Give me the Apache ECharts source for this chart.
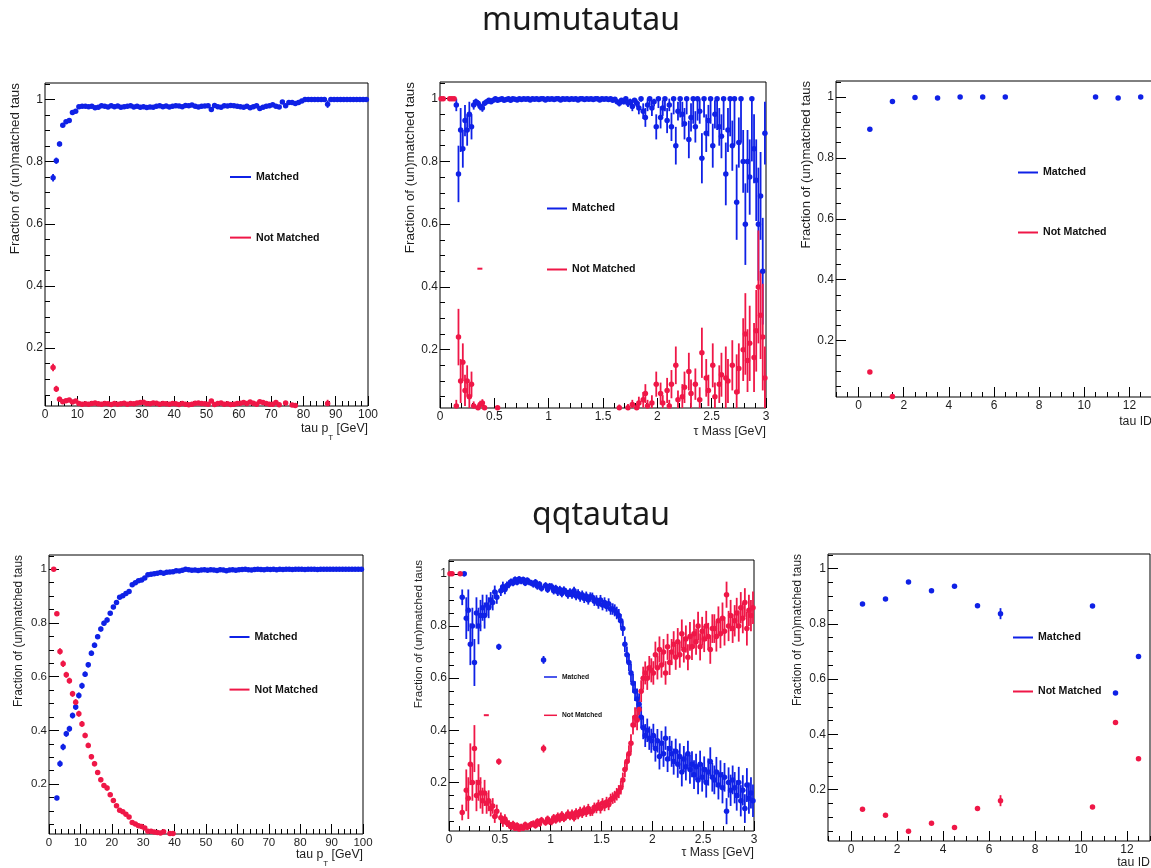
<!DOCTYPE html>
<html>
<head>
<meta charset="utf-8">
<title>Tau matching fractions</title>
<script src="https://cdn.jsdelivr.net/npm/echarts@6/dist/echarts.min.js"></script>
<style>
  html, body { margin: 0; padding: 0; background: #ffffff; }
  #chart { width: 1151px; height: 868px; }
</style>
</head>
<body>
<div id="chart"></div>
<script>
// ---------------------------------------------------------------------------
// Fractions of matched / not matched taus per bin.
// pT histograms: 100 bins of 1 GeV, mass histograms: 150 bins of 0.02 GeV,
// tau ID histograms: 13 bins of width 1. null = empty bin (nothing drawn).
// ---------------------------------------------------------------------------

// ---- mumutautau, tau pT ----
const ptMatchedMM = [
  null,null,0.748,0.803,0.857,0.917,0.928,0.932,0.958,0.962,
  0.977,0.978,0.978,0.977,0.978,0.973,0.975,0.98,0.978,0.976,
  0.98,0.977,0.979,0.975,0.977,0.978,0.98,0.976,0.978,0.975,
  0.977,0.974,0.976,0.975,0.978,0.98,0.977,0.979,0.976,0.978,
  0.98,0.979,0.977,0.981,0.98,0.982,0.978,0.976,0.978,0.979,
  0.98,0.968,0.981,0.977,0.975,0.98,0.979,0.981,0.98,0.978,
  0.977,0.975,0.978,0.973,0.977,0.98,0.971,0.975,0.978,0.98,
  0.983,0.978,0.976,0.992,0.98,0.99,0.99,0.987,0.99,0.995,
  1,1,1,1,1,1,1,0.985,1,1,
  1,1,1,1,1,1,1,1,1,1
];
const ptNotMatchedMM = [
  null,null,0.138,0.069,0.036,0.028,0.031,0.033,0.027,0.03,
  0.022,0.02,0.021,0.02,0.022,0.024,0.021,0.02,0.022,0.021,
  0.019,0.022,0.02,0.021,0.023,0.02,0.022,0.021,0.024,0.025,
  0.026,0.022,0.021,0.024,0.023,0.02,0.022,0.021,0.02,0.022,
  0.021,0.019,0.022,0.02,0.018,0.02,0.023,0.024,0.022,0.021,
  0.02,0.03,0.019,0.022,0.024,0.02,0.021,0.019,0.02,0.022,
  0.023,0.025,0.022,0.027,0.023,0.02,0.028,0.025,0.022,0.02,
  0.02,0.025,0.018,null,0.024,null,0.017,0.016,null,null,
  null,null,null,null,null,null,null,0.022,null,null,
  null,null,null,null,null,null,null,null,null,null
];
const ptErrMM = [
  0,0,0.012,0.01,0.008,0.006,0.005,0.005,0.004,0.004,
  0.003,0.003,0.003,0.003,0.003,0.003,0.003,0.003,0.003,0.003,
  0.003,0.003,0.003,0.003,0.003,0.003,0.003,0.003,0.003,0.003,
  0.003,0.003,0.003,0.003,0.003,0.003,0.003,0.003,0.003,0.003,
  0.003,0.003,0.003,0.003,0.003,0.003,0.003,0.003,0.003,0.003,
  0.003,0.005,0.003,0.003,0.003,0.003,0.003,0.003,0.003,0.003,
  0.004,0.004,0.004,0.004,0.004,0.004,0.004,0.004,0.004,0.004,
  0.005,0.005,0.005,0.006,0.006,0.005,0.006,0.006,0.006,0.005,
  0.004,0.004,0.004,0.004,0.004,0.004,0.004,0.012,0.004,0.004,
  0.003,0.003,0.003,0.003,0.003,0.003,0.003,0.003,0.003,0.003
];

// ---- mumutautau, tau mass ----
const massMatchedMM = [
  null,null,null,null,null,null,null,0.98,0.76,0.90,
  0.84,0.93,0.90,0.95,0.91,0.98,0.99,0.985,0.975,0.97,
  0.985,0.99,0.995,0.99,0.995,1,0.995,0.997,1,0.995,
  0.997,1,0.995,1,0.998,0.996,1,0.997,1,0.998,
  1,0.996,1,0.998,1,0.997,1,1,0.996,1,
  0.998,1,0.997,1,1,0.996,1,0.998,1,0.997,
  1,0.998,1,0.996,1,1,0.997,1,0.998,1,
  0.997,1,1,0.996,1,0.998,1,0.997,1,0.995,
  0.998,0.99,0.985,0.995,0.99,1,0.985,0.99,0.975,0.995,
  0.985,0.97,1,0.96,0.94,0.98,1,0.97,0.99,0.91,
  1,0.94,0.97,1,0.93,0.98,0.91,1,0.85,0.96,
  1,0.95,0.92,1,0.87,0.94,1,0.91,1,0.96,
  0.81,1,0.89,0.93,1,0.85,0.95,1,0.91,0.88,
  1,0.76,0.90,1,0.85,1,0.67,0.86,1,0.80,
  0.60,0.80,0.75,1,0.84,0.74,0.60,0.69,0.45,0.89
];
const massNotMatchedMM = [
  1,1,null,null,1,1,1,0.02,0.24,0.10,
  0.16,0.07,0.10,0.05,0.09,0.02,null,0.015,0.025,0.03,
  0.015,null,null,null,null,null,0.015,null,null,null,
  null,null,null,null,null,null,null,null,null,null,
  null,null,null,null,null,null,null,null,null,null,
  null,null,null,null,null,null,null,null,null,null,
  null,null,null,null,null,null,null,null,null,null,
  null,null,null,null,null,null,null,null,null,null,
  null,null,0.015,null,null,null,0.015,null,0.025,null,
  0.015,0.03,null,0.04,0.06,0.02,null,0.03,null,0.09,
  null,0.06,0.03,null,0.07,0.02,0.09,null,0.15,0.04,
  null,0.05,0.08,null,0.13,0.06,null,0.09,null,0.04,
  0.19,null,0.11,0.07,null,0.15,0.05,null,0.09,0.12,
  null,0.11,0.10,null,0.15,null,0.065,0.14,null,0.20,
  0.25,0.165,0.22,null,0.175,0.26,0.40,0.31,0.24,0.11
];
const massErrMM = [
  0,0,0,0,0,0,0,0.02,0.09,0.07,
  0.06,0.05,0.05,0.04,0.04,0.015,0.01,0.01,0.012,0.012,
  0.008,0.006,0.005,0.006,0.005,0.004,0.005,0.004,0.004,0.004,
  0.004,0.004,0.004,0.004,0.004,0.004,0.004,0.004,0.004,0.004,
  0.004,0.004,0.004,0.004,0.004,0.004,0.004,0.004,0.004,0.004,
  0.004,0.004,0.004,0.004,0.004,0.004,0.004,0.004,0.004,0.004,
  0.004,0.004,0.004,0.004,0.004,0.004,0.004,0.004,0.004,0.004,
  0.004,0.004,0.004,0.004,0.004,0.004,0.004,0.004,0.004,0.004,
  0.004,0.006,0.01,0.006,0.008,0.005,0.012,0.01,0.015,0.008,
  0.012,0.02,0.01,0.025,0.03,0.02,0.02,0.025,0.015,0.04,
  0.03,0.035,0.025,0.04,0.04,0.02,0.045,0.05,0.06,0.03,
  0.06,0.04,0.05,0.05,0.06,0.045,0.08,0.05,0.07,0.04,
  0.08,0.06,0.06,0.05,0.08,0.07,0.045,0.1,0.06,0.07,
  0.1,0.1,0.07,0.12,0.08,0.15,0.12,0.08,0.14,0.1,
  0.13,0.1,0.12,0.2,0.11,0.13,0.18,0.14,0.17,0.1
];

// ---- mumutautau, tau ID ----
const idMatchedMM    = [0.894,0.986,0.999,0.997,1,1,1,null,null,null,1,0.997,1];
const idNotMatchedMM = [0.096,0.016,null,null,null,null,null,null,null,null,null,null,null];
const idErrMM        = [0.004,0.002,0.001,0.001,0.001,0.001,0.001,0,0,0,0.001,0.002,0.001];

// ---- qqtautau, tau pT ----
const ptMatchedQQ = [
  null,null,0.148,0.276,0.338,0.387,0.406,0.455,0.487,0.53,
  0.566,0.609,0.644,0.687,0.717,0.749,0.777,0.799,0.811,0.836,
  0.859,0.876,0.896,0.901,0.91,0.917,0.942,0.95,0.957,0.96,
  0.967,0.979,0.981,0.983,0.985,0.988,0.985,0.989,0.99,0.991,
  0.994,0.993,0.996,1,0.998,0.996,0.997,0.995,0.997,0.998,
  0.996,0.998,0.997,0.995,0.998,0.997,0.994,0.997,0.998,0.996,
  0.998,0.999,1,0.998,0.997,0.999,1,0.999,0.998,1,
  0.999,1,0.998,1,0.999,1,1,0.999,1,1,
  1,0.999,1,1,1,0.999,1,1,1,1,
  1,1,1,1,1,1,1,1,1,1
];
const ptNotMatchedQQ = [
  null,1,0.834,0.694,0.648,0.607,0.585,0.536,0.505,0.462,
  0.424,0.381,0.344,0.302,0.276,0.243,0.216,0.195,0.185,0.16,
  0.139,0.119,0.102,0.097,0.088,0.077,0.057,0.051,0.045,0.042,
  0.036,0.024,0.024,0.021,0.02,0.018,0.022,null,0.016,0.016,
  null,null,null,null,null,null,null,null,null,null,
  null,null,null,null,null,null,null,null,null,null,
  null,null,null,null,null,null,null,null,null,null,
  null,null,null,null,null,null,null,null,null,null,
  null,null,null,null,null,null,null,null,null,null,
  null,null,null,null,null,null,null,null,null,null
];
const ptErrQQ = [
  0,0,0.008,0.012,0.012,0.011,0.011,0.011,0.011,0.011,
  0.011,0.01,0.01,0.01,0.01,0.009,0.009,0.009,0.009,0.008,
  0.008,0.007,0.007,0.007,0.006,0.006,0.005,0.005,0.005,0.005,
  0.004,0.004,0.004,0.003,0.003,0.003,0.003,0.003,0.003,0.003,
  0.002,0.002,0.002,0.002,0.002,0.002,0.002,0.002,0.002,0.002,
  0.002,0.002,0.002,0.002,0.002,0.002,0.002,0.002,0.002,0.002,
  0.002,0.002,0.002,0.002,0.002,0.002,0.002,0.002,0.002,0.002,
  0.002,0.002,0.002,0.002,0.002,0.002,0.002,0.002,0.002,0.002,
  0.002,0.002,0.002,0.002,0.002,0.002,0.002,0.002,0.002,0.002,
  0.002,0.002,0.002,0.002,0.002,0.002,0.002,0.002,0.002,0.002
];

// ---- qqtautau, tau mass ----
const massMatchedQQ = [
  null,null,null,null,null,null,0.91,1.0,0.83,0.86,
  0.73,0.80,0.66,0.85,0.80,0.84,0.87,0.84,0.88,0.87,
  0.90,0.89,0.93,0.91,0.72,0.935,0.95,0.94,0.955,0.96,
  0.97,0.965,0.978,0.968,0.98,0.972,0.978,0.965,0.975,0.968,
  0.965,0.96,0.968,0.952,0.96,0.945,0.67,0.955,0.94,0.952,
  0.95,0.935,0.945,0.93,0.94,0.925,0.938,0.93,0.92,0.93,
  0.92,0.935,0.915,0.925,0.91,0.92,0.905,0.915,0.90,0.912,
  0.91,0.895,0.90,0.885,0.90,0.88,0.89,0.875,0.885,0.865,
  0.865,0.86,0.85,0.84,0.82,0.79,0.73,0.69,0.66,0.62,
  0.58,0.55,0.52,0.50,0.45,0.41,0.38,0.40,0.37,0.36,
  0.38,0.33,0.36,0.30,0.35,0.31,0.37,0.29,0.33,0.31,
  0.28,0.32,0.27,0.30,0.24,0.29,0.26,0.31,0.25,0.27,
  0.23,0.26,0.21,0.27,0.22,0.25,0.20,0.24,0.28,0.22,
  0.21,0.24,0.19,0.23,0.18,0.22,0.09,0.20,0.17,0.21,
  0.18,0.15,0.20,0.13,0.17,0.10,0.19,0.14,0.16,0.13
];
const massNotMatchedQQ = [
  1,1,null,null,null,1,0.085,null,0.17,0.14,
  0.27,0.20,0.33,0.15,0.20,0.16,0.13,0.16,0.12,0.13,
  0.10,0.11,0.07,0.09,0.28,0.065,0.05,0.06,0.045,0.04,
  0.03,0.04,0.025,0.035,0.022,0.03,0.025,0.038,0.028,0.034,
  0.04,0.042,0.035,0.05,0.042,0.055,0.33,0.047,0.06,0.05,
  0.05,0.065,0.055,0.07,0.06,0.075,0.062,0.07,0.08,0.07,
  0.08,0.065,0.085,0.075,0.09,0.08,0.095,0.085,0.10,0.088,
  0.09,0.105,0.10,0.115,0.10,0.12,0.11,0.125,0.115,0.135,
  0.14,0.145,0.155,0.165,0.18,0.21,0.25,0.28,0.31,0.35,
  0.42,0.45,0.44,0.48,0.55,0.60,0.62,0.60,0.64,0.63,
  0.62,0.69,0.64,0.71,0.65,0.70,0.62,0.72,0.66,0.70,
  0.73,0.68,0.74,0.69,0.77,0.71,0.75,0.68,0.76,0.72,
  0.77,0.74,0.80,0.72,0.78,0.75,0.80,0.76,0.71,0.79,
  0.79,0.76,0.82,0.77,0.83,0.78,0.92,0.80,0.84,0.79,
  0.82,0.85,0.80,0.87,0.83,0.89,0.79,0.86,0.84,0.87
];
const massErrQQ = [
  0,0,0,0,0,0,0.03,0.01,0.08,0.08,
  0.08,0.07,0.09,0.06,0.07,0.06,0.05,0.05,0.04,0.04,
  0.03,0.03,0.025,0.025,0.012,0.02,0.02,0.018,0.016,0.015,
  0.012,0.013,0.012,0.012,0.011,0.012,0.011,0.012,0.011,0.012,
  0.012,0.013,0.012,0.013,0.012,0.013,0.015,0.013,0.013,0.013,
  0.014,0.014,0.013,0.015,0.014,0.015,0.014,0.015,0.016,0.015,
  0.016,0.015,0.016,0.016,0.017,0.016,0.017,0.017,0.018,0.017,
  0.018,0.018,0.018,0.019,0.019,0.02,0.02,0.02,0.021,0.022,
  0.022,0.023,0.024,0.025,0.026,0.028,0.03,0.031,0.033,0.035,
  0.036,0.038,0.04,0.042,0.042,0.044,0.044,0.045,0.045,0.046,
  0.045,0.05,0.045,0.05,0.048,0.05,0.045,0.05,0.048,0.05,
  0.05,0.048,0.052,0.05,0.055,0.05,0.052,0.05,0.055,0.05,
  0.055,0.05,0.055,0.052,0.055,0.05,0.058,0.052,0.055,0.055,
  0.055,0.058,0.055,0.055,0.06,0.055,0.05,0.058,0.06,0.055,
  0.06,0.058,0.06,0.06,0.058,0.055,0.065,0.06,0.06,0.062
];

// ---- qqtautau, tau ID ----
const idMatchedQQ    = [0.872,0.89,0.952,0.92,0.936,0.866,0.837,null,null,null,0.865,0.55,0.682];
const idNotMatchedQQ = [0.129,0.107,0.049,0.078,0.063,0.132,0.16,null,null,null,0.137,0.443,0.312];
const idErrQQ        = [0.005,0.005,0.004,0.005,0.004,0.006,0.02,0,0,0,0.005,0.005,0.006];

// isolated not-matched entry in both mass histograms
const massStrayNotMatched = [[0.367, 0.458]];

// ---- tick labels ----
const yTickLabels  = [0.2, 0.4, 0.6, 0.8, 1];
const ptTickLabels = [0, 10, 20, 30, 40, 50, 60, 70, 80, 90, 100];
const massTickLabels = [0, 0.5, 1, 1.5, 2, 2.5, 3];
const idTickLabels = [0, 2, 4, 6, 8, 10, 12];

// ---------------------------------------------------------------------------
const FONT = '"Liberation Sans", Arial, Helvetica, sans-serif';
const BLUE = '#0f21e6';
const RED = '#ef1747';
const INK = '#1e1e1e';
const Y_MIN = 0.014, Y_MAX = 1.053;

function binCenters(lo, width, n) {
  const out = [];
  for (let i = 0; i < n; i++) out.push(Math.round((lo + (i + 0.5) * width) * 1e6) / 1e6);
  return out;
}
function steps(lo, hi, step) {
  const out = [];
  const n = Math.round((hi - lo) / step);
  for (let i = 0; i <= n; i++) out.push(Math.round((lo + i * step) * 1e6) / 1e6);
  return out;
}
function toPoints(xs, ys, errs) {
  const out = [];
  ys.forEach((y, i) => { if (y != null) out.push([xs[i], y, errs[i]]); });
  return out;
}

const ptBins = binCenters(0, 1, 100);
const massBins = binCenters(0, 0.02, 150);
const idBins = binCenters(0, 1, 13);

const PT_TITLE = '{a|tau p}{b|T}{a| [GeV]}';
const MASS_TITLE = '{a|\u03c4 Mass [GeV]}';
const ID_TITLE = '{a|tau ID}';

const panels = [
  { box: { left: 45, top: 83, width: 323, height: 323 },
    xr: [0, 100], xMajor: ptTickLabels, xMinor: steps(0, 100, 2),
    xs: ptBins, m: ptMatchedMM, n: ptNotMatchedMM, e: ptErrMM,
    xTitle: PT_TITLE, xTitleGap: 16.5, yTitleSize: 13.4, tickSize: 12,
    legend: { left: 230, top: 171.5, gap: 49.6, font: 10.6, w: 21, h: 2 } },
  { box: { left: 440, top: 82, width: 326, height: 326 },
    xr: [0, 3], xMajor: massTickLabels, xMinor: steps(0, 3, 0.1),
    xs: massBins, m: massMatchedMM, n: massNotMatchedMM, e: massErrMM, stray: true,
    xTitle: MASS_TITLE, xTitleGap: 17.5, yTitleSize: 13.4, tickSize: 12,
    legend: { left: 547, top: 203, gap: 50, font: 10.6, w: 20, h: 2 } },
  { box: { left: 836, top: 81, width: 316, height: 316 },
    xr: [-1, 13], xMajor: idTickLabels, xMinor: steps(-1, 13, 0.5),
    xs: idBins, m: idMatchedMM, n: idNotMatchedMM, e: idErrMM,
    xTitle: ID_TITLE, xTitleGap: 18.5, yTitleSize: 13.1, tickSize: 12,
    legend: { left: 1018, top: 167, gap: 49, font: 10.6, w: 20, h: 2 } },
  { box: { left: 49, top: 555, width: 314, height: 279 },
    xr: [0, 100], xMajor: ptTickLabels, xMinor: steps(0, 100, 2),
    xs: ptBins, m: ptMatchedQQ, n: ptNotMatchedQQ, e: ptErrQQ,
    xTitle: PT_TITLE, xTitleGap: 14.5, yTitleSize: 11.9, tickSize: 11.5,
    legend: { left: 229.5, top: 631.5, gap: 41.6, font: 10.6, w: 20, h: 2 } },
  { box: { left: 449, top: 560, width: 305, height: 271 },
    xr: [0, 3], xMajor: massTickLabels, xMinor: steps(0, 3, 0.1),
    xs: massBins, m: massMatchedQQ, n: massNotMatchedQQ, e: massErrQQ, stray: true,
    xTitle: MASS_TITLE, xTitleGap: 16, yTitleSize: 11.6, tickSize: 12,
    legend: { left: 544, top: 673.5, gap: 31.3, font: 6.7, w: 13, h: 1.5 } },
  { box: { left: 828, top: 554, width: 322, height: 287 },
    xr: [-1, 13], xMajor: idTickLabels, xMinor: steps(-1, 13, 0.5),
    xs: idBins, m: idMatchedQQ, n: idNotMatchedQQ, e: idErrQQ,
    xTitle: ID_TITLE, xTitleGap: 16, yTitleSize: 11.9, tickSize: 12,
    legend: { left: 1013, top: 632, gap: 43, font: 10.6, w: 20, h: 2 } }
];

const yMinor = steps(0.05, 1.05, 0.05);

function errorBars(params, api) {
  const x = api.value(0), y = api.value(1), e = api.value(2);
  if (!(e > 0)) return null;
  const top = api.coord([x, Math.min(y + e, 1)]);
  const bot = api.coord([x, Math.max(y - e, 0)]);
  return {
    type: 'line',
    shape: { x1: top[0], y1: top[1], x2: bot[0], y2: bot[1] },
    style: { stroke: api.visual('color'), lineWidth: 1.8 }
  };
}

const grids = [], xAxes = [], yAxes = [], series = [], legends = [], graphics = [];
const tickLine = { color: '#000', width: 1 };

panels.forEach((p, k) => {
  grids.push({
    left: p.box.left, top: p.box.top, width: p.box.width, height: p.box.height,
    show: true, borderColor: '#000', borderWidth: 1, backgroundColor: 'transparent',
    containLabel: false, outerBoundsMode: 'none'
  });
  const labelStyle = { fontFamily: FONT, fontSize: p.tickSize, color: INK };
  // main x axis (labels + long ticks) and a companion axis for the short ticks
  xAxes.push({
    gridIndex: k, type: 'value', min: p.xr[0], max: p.xr[1], position: 'bottom',
    axisLine: { show: false, onZero: false }, splitLine: { show: false },
    axisTick: { show: true, inside: true, length: 10, customValues: p.xMajor, lineStyle: tickLine },
    axisLabel: Object.assign({ customValues: p.xMajor, margin: 3 }, labelStyle)
  });
  xAxes.push({
    gridIndex: k, type: 'value', min: p.xr[0], max: p.xr[1], position: 'bottom', offset: 0,
    axisLine: { show: false, onZero: false }, splitLine: { show: false }, axisLabel: { show: false },
    axisTick: { show: true, inside: true, length: 5, customValues: p.xMinor, lineStyle: tickLine }
  });
  yAxes.push({
    gridIndex: k, type: 'value', min: Y_MIN, max: Y_MAX, position: 'left', offset: 0,
    axisLine: { show: false, onZero: false }, splitLine: { show: false },
    axisTick: { show: true, inside: true, length: 10, customValues: yTickLabels, lineStyle: tickLine },
    axisLabel: Object.assign({ customValues: yTickLabels, margin: 2 }, labelStyle)
  });
  yAxes.push({
    gridIndex: k, type: 'value', min: Y_MIN, max: Y_MAX, position: 'left', offset: 0,
    axisLine: { show: false, onZero: false }, splitLine: { show: false }, axisLabel: { show: false },
    axisTick: { show: true, inside: true, length: 5, customValues: yMinor, lineStyle: tickLine }
  });

  const ax = { xAxisIndex: 2 * k, yAxisIndex: 2 * k };
  [['Matched', p.m, BLUE], ['Not Matched', p.n, RED]].forEach(([name, ys, color]) => {
    const pts = toPoints(p.xs, ys, p.e);
    series.push(Object.assign({
      type: 'custom', name, data: pts, renderItem: errorBars,
      encode: { x: 0, y: 1 }, itemStyle: { color }, clip: true, silent: true, z: 2
    }, ax));
    series.push(Object.assign({
      type: 'scatter', name, data: pts.map(d => [d[0], d[1]]),
      symbol: 'circle', symbolSize: 5.5, itemStyle: { color, opacity: 1 },
      clip: true, silent: true, z: 3
    }, ax));
  });
  if (p.stray) {
    series.push(Object.assign({
      type: 'scatter', name: 'stray', data: massStrayNotMatched,
      symbol: 'rect', symbolSize: [5, 2], itemStyle: { color: RED, opacity: 1 },
      silent: true, z: 3
    }, ax));
  }

  legends.push({
    data: ['Matched', 'Not Matched'], orient: 'vertical',
    left: p.legend.left, top: p.legend.top, itemGap: p.legend.gap, padding: 0,
    icon: 'rect', itemWidth: p.legend.w, itemHeight: p.legend.h, selectedMode: false,
    textStyle: { fontFamily: FONT, fontWeight: 'bold', fontSize: p.legend.font, color: '#111' }
  });

  // axis titles
  graphics.push({
    type: 'text', x: p.box.left - 30, y: p.box.top, rotation: Math.PI / 2, silent: true,
    style: { text: 'Fraction of (un)matched taus', fontFamily: FONT, fontSize: p.yTitleSize,
             fill: INK, align: 'right', verticalAlign: 'middle' }
  });
  graphics.push({
    type: 'text', x: p.box.left + p.box.width, y: p.box.top + p.box.height + p.xTitleGap, silent: true,
    style: {
      text: p.xTitle, align: 'right', verticalAlign: 'top',
      rich: {
        a: { fontFamily: FONT, fontSize: 12.3, fill: INK, lineHeight: 15, verticalAlign: 'top' },
        b: { fontFamily: FONT, fontSize: 8, fill: INK, lineHeight: 8, padding: [11, 0, 0, 0], verticalAlign: 'top' }
      }
    }
  });
});

// process titles
graphics.push({
  type: 'text', x: 581, y: 21, silent: true,
  style: { text: 'mumutautau', fontFamily: '"Noto Sans", "Open Sans", sans-serif', fontSize: 32,
           fill: '#1a1a1a', align: 'center', verticalAlign: 'middle' }
});
graphics.push({
  type: 'text', x: 601, y: 516, silent: true,
  style: { text: 'qqtautau', fontFamily: '"Noto Sans", "Open Sans", sans-serif', fontSize: 32,
           fill: '#1a1a1a', align: 'center', verticalAlign: 'middle' }
});

const chart = echarts.init(document.getElementById('chart'), null, { renderer: 'canvas' });
chart.setOption({
  backgroundColor: '#ffffff',
  animation: false,
  grid: grids,
  xAxis: xAxes,
  yAxis: yAxes,
  legend: legends,
  series: series,
  graphic: graphics
});
</script>
</body>
</html>
